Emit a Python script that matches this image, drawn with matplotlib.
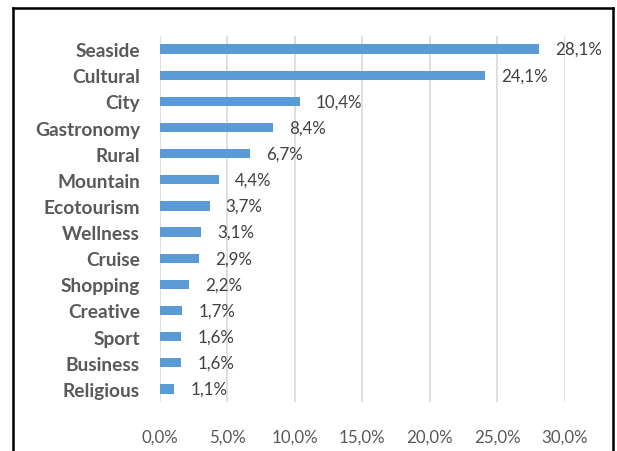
import matplotlib
matplotlib.use("Agg")
import matplotlib.pyplot as plt
from matplotlib.lines import Line2D

categories = ["Seaside", "Cultural", "City", "Gastronomy", "Rural", "Mountain",
              "Ecotourism", "Wellness", "Cruise", "Shopping", "Creative", "Sport",
              "Business", "Religious"]
values = [28.1, 24.1, 10.4, 8.4, 6.7, 4.4, 3.7, 3.1, 2.9, 2.2, 1.7, 1.6, 1.6, 1.1]
xticks = [0, 5, 10, 15, 20, 25, 30]

plt.rcParams['font.family'] = ['Lato', 'DejaVu Sans']

fig = plt.figure(figsize=(6.17, 4.52), dpi=100)
ax = fig.add_axes([159.5/617, 1-403/452, (565-159.5)/617, (403-37)/452])

y = list(range(len(categories)))
ax.barh(y, values, height=0.35, color="#5B9BD5", zorder=3)
for yi, v in zip(y, values):
    ax.annotate(f"{v:.1f}%".replace(".", ","), xy=(v, yi), xytext=(11.5, 0),
                textcoords="offset points", va="center", ha="left",
                fontsize=12.2, color="#404040")

ax.set_xlim(0, 30)
ax.set_ylim(len(categories) - 0.5, -0.5)
ax.set_yticks(y)
ax.set_yticklabels(categories, fontsize=13.8, fontweight="bold", color="#595959")
ax.set_xticks(xticks)
ax.set_xticklabels([f"{t:.1f}%".replace(".", ",") for t in xticks], fontsize=12.2, color="#595959")
ax.tick_params(axis="both", length=0)
ax.tick_params(axis="x", pad=19)
ax.tick_params(axis="y", pad=14)
ax.grid(axis="x", color="#D9D9D9", linewidth=1.2, zorder=0)
for s in ax.spines.values():
    s.set_visible(False)

# outer frame
lw = 1.8
x0, x1 = 13/617, 613/617
ytop = 1 - 8.5/452
fig.add_artist(Line2D([x0, x0], [0, ytop], transform=fig.transFigure, color="black", lw=lw))
fig.add_artist(Line2D([x1, x1], [0, ytop], transform=fig.transFigure, color="black", lw=lw))
fig.add_artist(Line2D([x0, x1], [ytop, ytop], transform=fig.transFigure, color="black", lw=lw))

fig.savefig("out.png", dpi=100)
